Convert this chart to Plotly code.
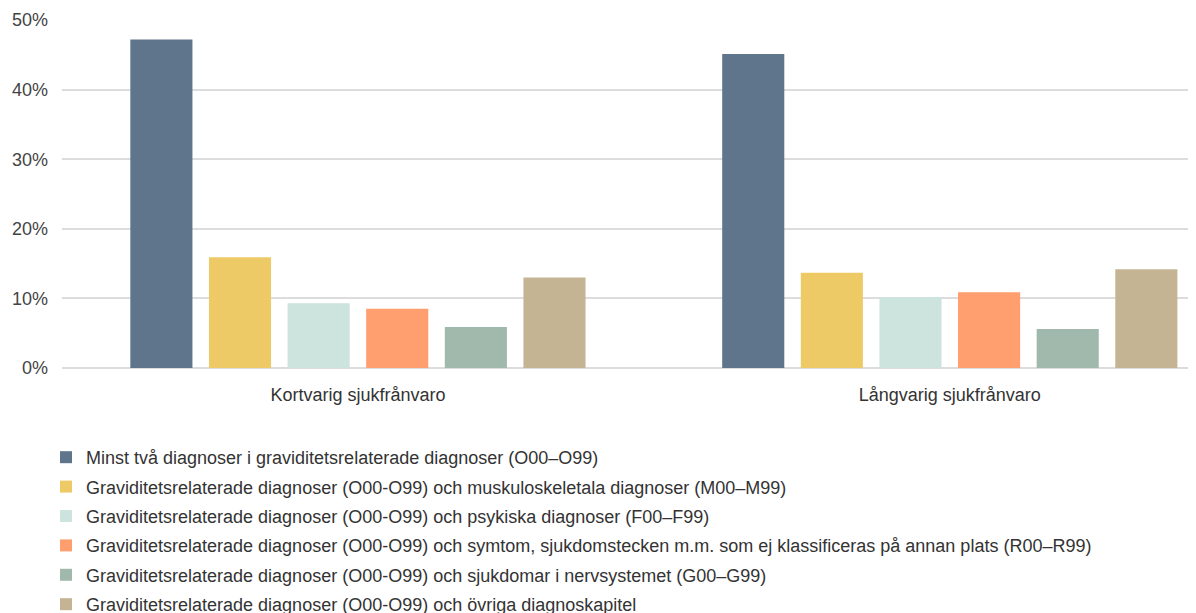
import plotly.graph_objects as go

categories = ["Kortvarig sjukfrånvaro", "Långvarig sjukfrånvaro"]

series_names = [
    "Minst två diagnoser i graviditetsrelaterade diagnoser (O00–O99)",
    "Graviditetsrelaterade diagnoser (O00-O99) och muskuloskeletala diagnoser (M00–M99)",
    "Graviditetsrelaterade diagnoser (O00-O99) och psykiska diagnoser (F00–F99)",
    "Graviditetsrelaterade diagnoser (O00-O99) och symtom, sjukdomstecken m.m. som ej klassificeras på annan plats (R00–R99)",
    "Graviditetsrelaterade diagnoser (O00-O99) och sjukdomar i nervsystemet (G00–G99)",
    "Graviditetsrelaterade diagnoser (O00-O99) och övriga diagnoskapitel",
]

minst_tva = [47.2, 45.1]
muskuloskeletala = [15.9, 13.7]
psykiska = [9.3, 10.2]
symtom = [8.5, 10.9]
nervsystemet = [5.9, 5.6]
ovriga = [13.0, 14.2]

colors = ["#5f758c", "#edca65", "#cde3dd", "#ff9e6e", "#a1b8ad", "#c4b494"]

fig = go.Figure()
for i, (name, vals) in enumerate(zip(series_names, [minst_tva, muskuloskeletala, psykiska, symtom, nervsystemet, ovriga])):
    fig.add_trace(go.Bar(
        x=categories,
        y=vals,
        name=name,
        marker_color=colors[i],
        marker_line_width=0,
        legendgroup=str(i),
    ))

# the page has an 8px body margin, so margins are shifted to compensate
fig.update_layout(
    width=1196,
    height=613,
    margin=dict(l=54, r=8, t=12, b=253, autoexpand=False),
    paper_bgcolor="white",
    plot_bgcolor="white",
    font=dict(family="Liberation Sans, Arial, sans-serif", size=18, color="#333333"),
    barmode="group",
    bargap=0.203,
    bargroupgap=0.21,
    showlegend=True,
    legend=dict(
        orientation="v",
        x=-0.0141,
        xanchor="left",
        y=-0.204,
        yanchor="top",
        font=dict(size=18, color="#333333"),
        tracegroupgap=3,
        itemclick=False,
    ),
    xaxis=dict(
        range=[-0.5, 1.416],
        automargin=False,
        showgrid=False,
        showline=False,
        ticks="",
        ticklabelstandoff=14,
        tickfont=dict(size=18, color="#333333"),
    ),
    yaxis=dict(
        range=[0, 50],
        dtick=10,
        ticksuffix="%",
        automargin=False,
        showgrid=True,
        gridcolor="#dcdcdc",
        gridwidth=2,
        zeroline=True,
        zerolinecolor="#dcdcdc",
        zerolinewidth=2,
        ticklabelstandoff=13,
        tickfont=dict(size=18, color="#444444"),
        ticks="",
    ),
)

fig.write_html("out.html")
